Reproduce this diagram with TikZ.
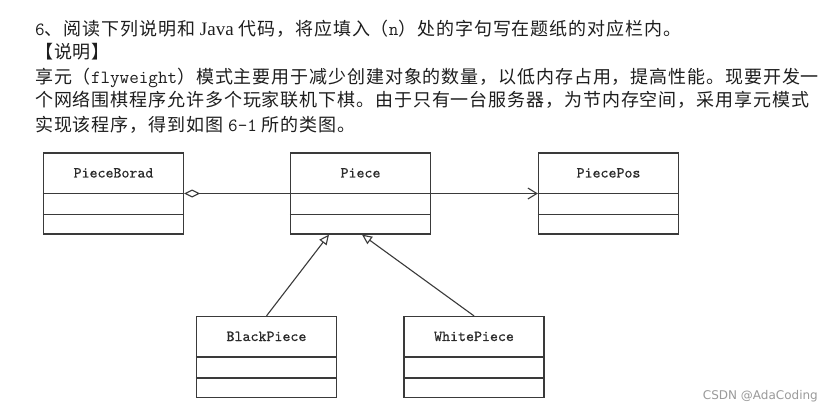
\documentclass[tikz,border=0pt]{standalone}
\usepackage{fontspec}
\setmainfont{Liberation Serif}
\newfontfamily\cjk[LetterSpace=5]{Noto Sans CJK SC}
\newfontfamily\lserif{Liberation Serif}
\newfontfamily\wmfont{DejaVu Sans}
\newfontfamily\namefont[FakeBold=0.6]{lmmono10-regular.otf}
\newcommand\halfmono{\ttfamily\fontsize{18.6}{20}\selectfont}
\usetikzlibrary{arrows.meta,calc}
\definecolor{boxline}{HTML}{3A3A3A}
\definecolor{nametxt}{HTML}{2A2A2A}
\definecolor{txt}{HTML}{1E1E1E}
\definecolor{wm}{HTML}{9A9A9A}
\tikzset{
  classbox/.style={draw=boxline, line width=1.2pt, minimum width=140pt, minimum height=81pt, inner sep=0pt},
  classname/.style={font=\namefont\fontsize{15.2}{17}\selectfont, text=nametxt, inner sep=0pt},
  divider/.style={draw=boxline, line width=1.2pt},
  para/.style={anchor=base west, inner sep=0pt, text=txt, font=\cjk\fontsize{18}{20}\selectfont},
  conn/.style={draw=boxline, line width=1.1pt},
}
\newcommand\umlclass[3]{%
  \node[classbox] (#1) at (#2) {};
  \node[classname] (#1name) at ($(#1.north)+(0,20.5)$) {#3};
  \draw[divider] ($(#1.north west)+(0,41)$) -- ($(#1.north east)+(0,41)$);
  \draw[divider] ($(#1.north west)+(0,62)$) -- ($(#1.north east)+(0,62)$);
}
\begin{document}
\begin{tikzpicture}[x=1pt,y=-1pt]
\fill[white] (0,0) rectangle (835,412);
\useasboundingbox (0,0) rectangle (835,412);

\node[para] (l1) at (35,35.5) {{\halfmono 6}、阅读下列说明和 {\lserif\fontsize{19}{20}\selectfont Java} 代码，将应填入（{\halfmono n}）处的字句写在题纸的对应栏内。};
\node[para] (l2) at (35,59) {【说明】};
\node[para] (l3) at (35,83.5) {享元（{\halfmono flyweight}）模式主要用于减少创建对象的数量，以低内存占用，提高性能。现要开发一};
\node[para] (l4) at (35,106.5) {个网络围棋程序允许多个玩家联机下棋。由于只有一台服务器，为节内存空间，采用享元模式};
\node[para] (l5) at (35,131.5) {实现该程序，得到如图 {\halfmono 6-1} 所的类图。};

\umlclass{board}{113.5,193.5}{PieceBorad}
\umlclass{piece}{360.5,193.5}{Piece}
\umlclass{pos}{608.5,193.5}{PiecePos}
\umlclass{black}{266.5,357}{BlackPiece}
\umlclass{white}{474,357}{WhitePiece}

\draw[conn, {Diamond[open,length=16pt,width=8pt]}-] (board.east) -- (piece.west);
\draw[conn, -{Straight Barb[length=9pt,width=11pt]}] (piece.east) -- (pos.west);
\coordinate (pL) at ($(piece.south)+(-31.5,0)$);
\coordinate (pR) at ($(piece.south)+(1.5,0)$);
\draw[conn, -{Triangle[open,length=10pt,width=9pt,fill=white]}] (black.north) -- (pL);
\draw[conn, -{Triangle[open,length=10pt,width=9pt,fill=white]}] (white.north) -- (pR);

\node[anchor=base east, inner sep=0pt, font=\wmfont\fontsize{12}{14}\selectfont, text=wm] (credit) at (818,399.5) {CSDN @AdaCoding};
\end{tikzpicture}
\end{document}
